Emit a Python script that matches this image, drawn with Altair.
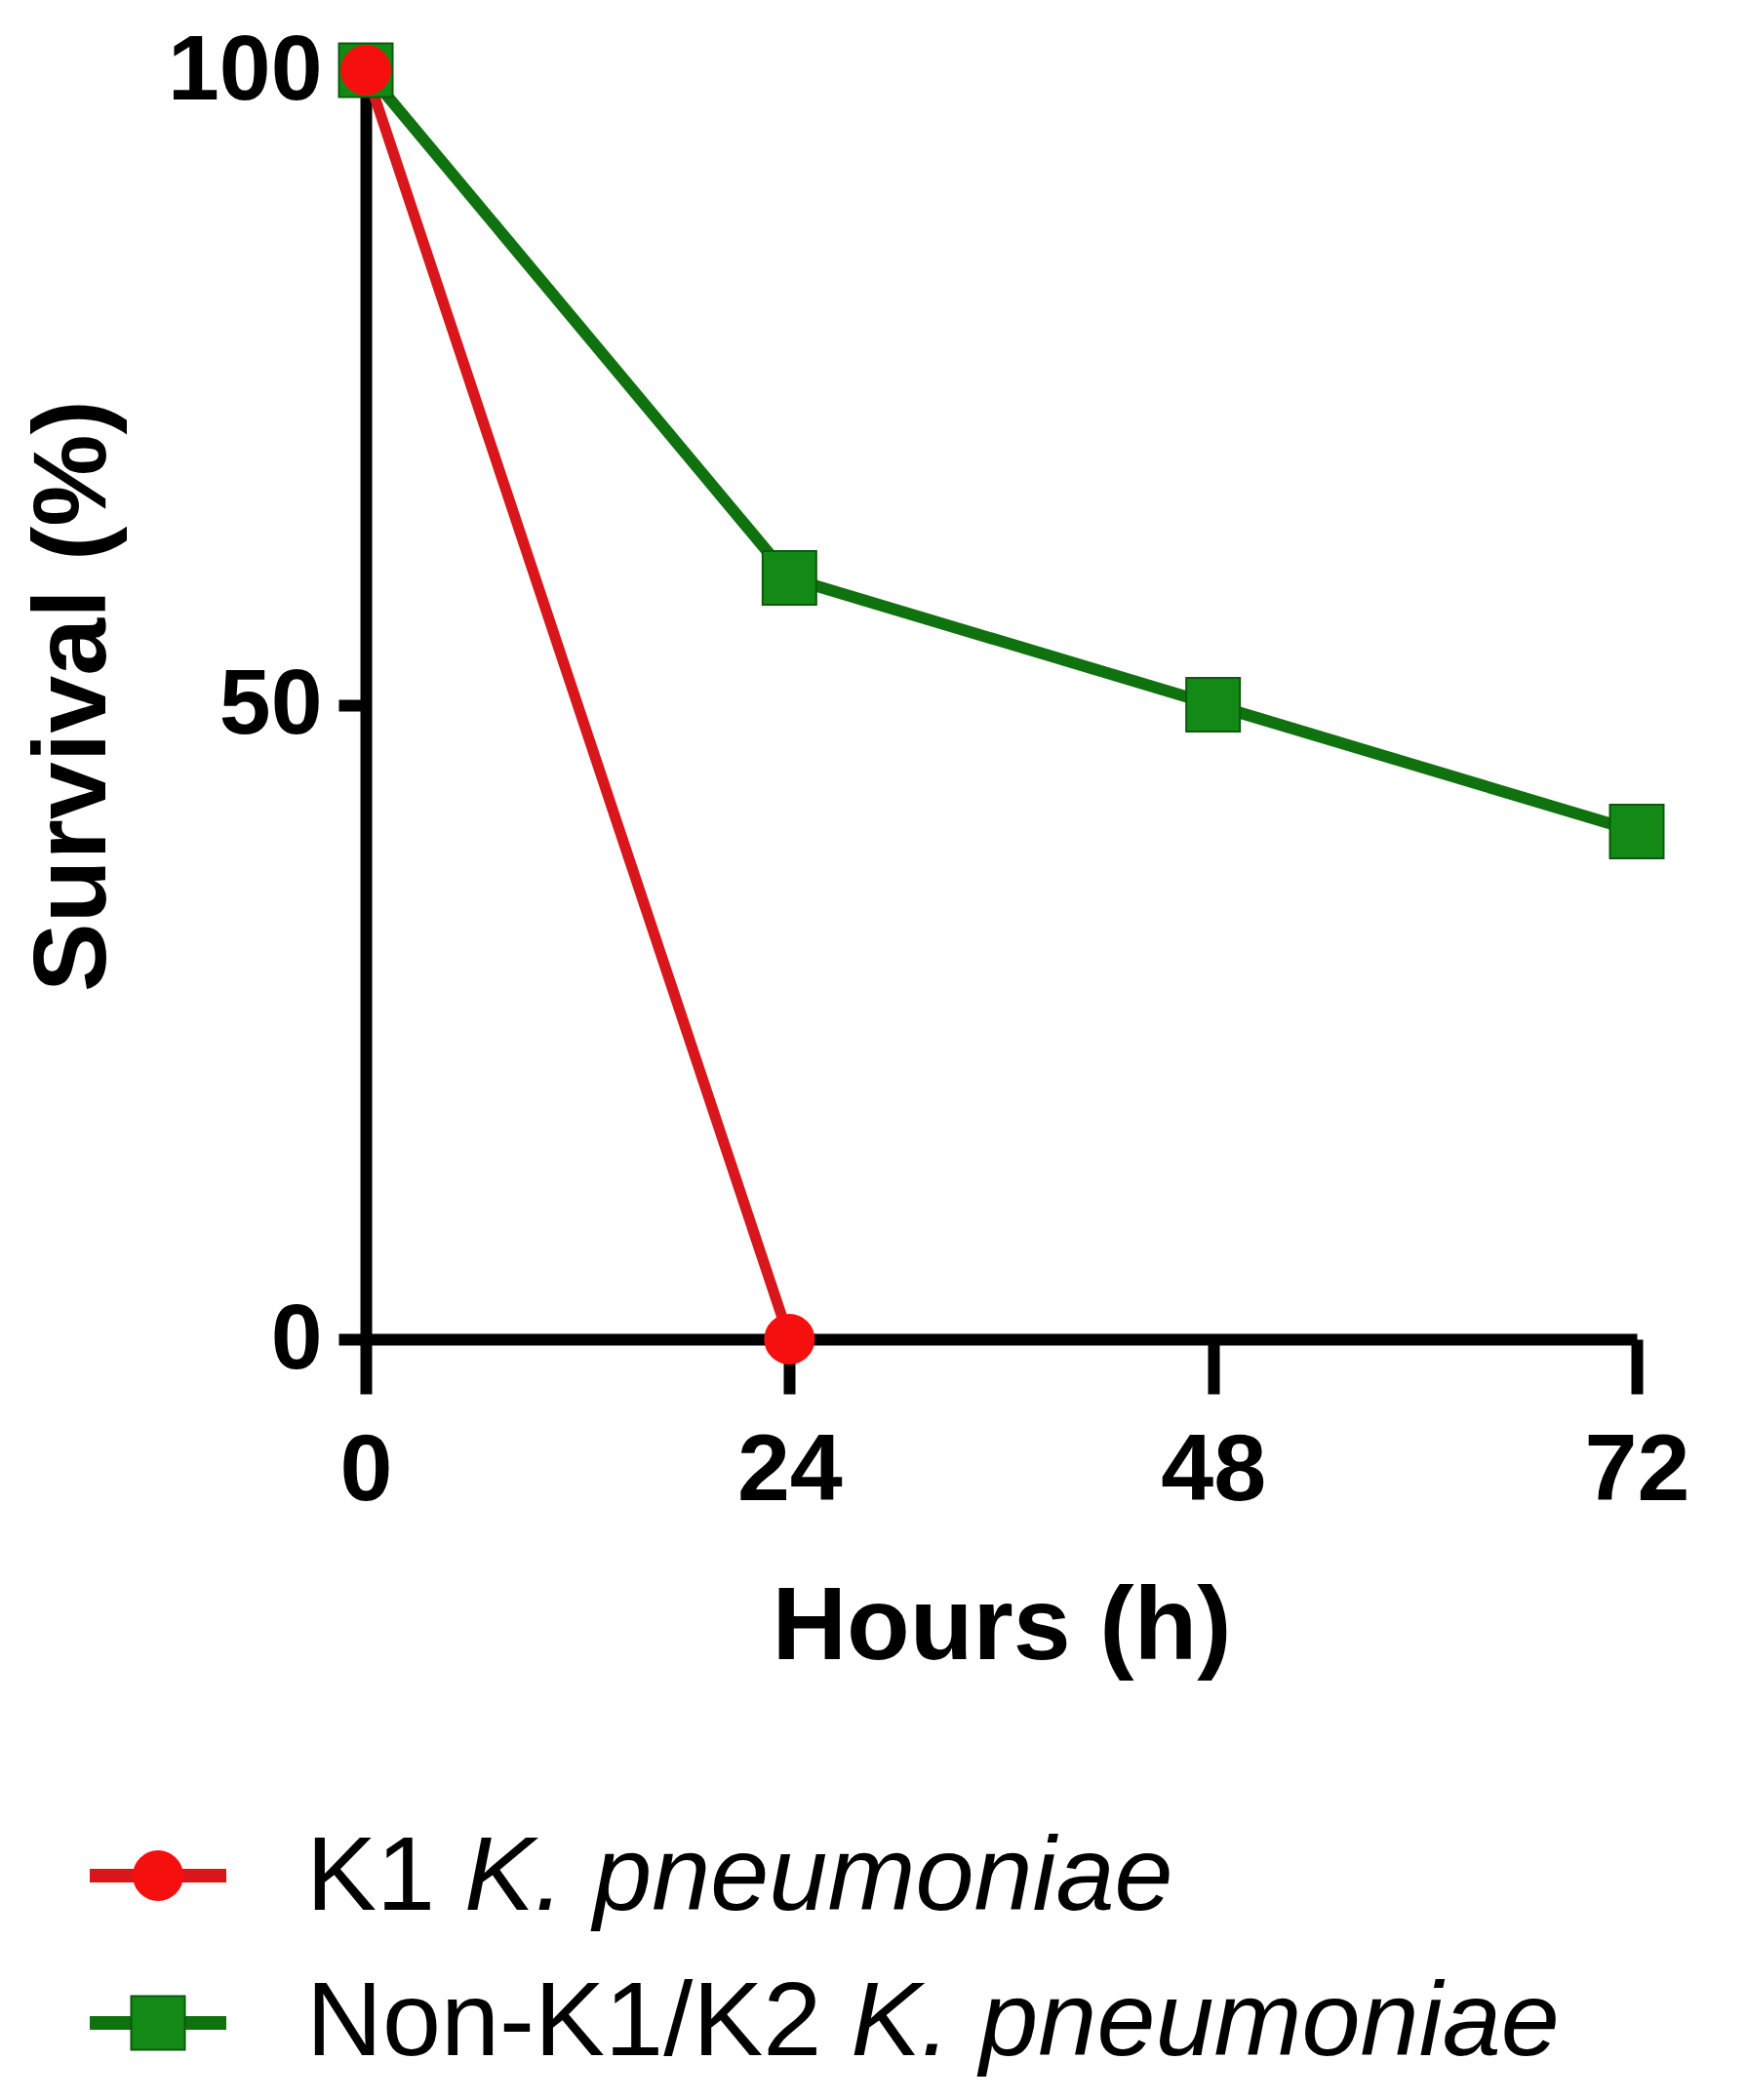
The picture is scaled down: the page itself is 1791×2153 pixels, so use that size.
import altair as alt
import pandas as pd

# ---- data ----
hours_k1 = [0, 24]
survival_k1 = [100, 0]
hours_non = [0, 24, 48, 72]
survival_non = [100, 60, 50, 40]
series_prefix = ["K1", "Non-K1/K2"]
species = "K. pneumoniae"
x_ticks = [0, 24, 48, 72]
y_ticks = [0, 50, 100]
x_title = "Hours (h)"
y_title = "Survival (%)"

RED_LINE = "#d9161b"
RED_FILL = "#f5100f"
GREEN_LINE = "#0f720f"
GREEN_FILL = "#138a16"
GREEN_EDGE = "#0b5a0b"
FONT = "Liberation Sans"

df_k1 = pd.DataFrame({"hours": hours_k1, "survival": survival_k1, "series": series_prefix[0]})
df_non = pd.DataFrame({"hours": hours_non, "survival": survival_non, "series": series_prefix[1]})

W, H = 1303, 1301

x_enc = alt.X(
    "hours:Q",
    scale=alt.Scale(domain=[0, 72], nice=False, zero=False),
    axis=alt.Axis(
        values=x_ticks, title=x_title, grid=False,
        labelFont=FONT, labelFontSize=97, labelFontWeight="bold", labelColor="black",
        labelPadding=31, labelFlush=False, labelOverlap=False,
        tickSize=56, tickWidth=12, tickColor="black",
        domainWidth=12, domainColor="black",
        titleFont=FONT, titleFontSize=106, titleFontWeight="bold", titleColor="black",
        titleX=W / 2, titleY=327, titleBaseline="alphabetic", titleAlign="center",
    ),
)
y_enc = alt.Y(
    "survival:Q",
    scale=alt.Scale(domain=[0, 100], nice=False, zero=False),
    axis=alt.Axis(
        values=y_ticks, title=y_title, grid=False,
        labelFont=FONT, labelFontSize=95, labelFontWeight="bold", labelColor="black",
        labelPadding=17, labelFlush=False, labelOverlap=False,
        tickSize=28, tickWidth=12, tickColor="black",
        domainWidth=12, domainColor="black",
        titleFont=FONT, titleFontSize=106, titleFontWeight="bold", titleColor="black",
        titleAngle=270, titleX=-268, titleY=641, titleBaseline="alphabetic", titleAlign="center",
    ),
)

green_line = alt.Chart(df_non).mark_line(color=GREEN_LINE, strokeWidth=12).encode(x=x_enc, y=y_enc)
red_line = alt.Chart(df_k1).mark_line(color=RED_LINE, strokeWidth=11).encode(x=x_enc, y=y_enc)
green_pts = alt.Chart(df_non).mark_point(
    shape="square", filled=True, size=3025, color=GREEN_FILL, stroke=GREEN_EDGE, strokeWidth=2, opacity=1
).encode(x=x_enc, y=y_enc)
red_pts = alt.Chart(df_k1).mark_point(
    shape="circle", filled=True, size=2700, color=RED_FILL, opacity=1
).encode(x=x_enc, y=y_enc)

# ---- custom legend (mixed upright / italic text) ----
ARIAL_W = {"K": .667, "1": .556, " ": .278, "N": .722, "o": .556, "n": .556, "-": .333,
           "/": .278, "2": .556}
LEG_FS = 108
legend_layers = []
rows = [
    (series_prefix[0], RED_LINE, RED_FILL, "circle", 1851, 1886),
    (series_prefix[1], GREEN_LINE, GREEN_FILL, "square", 2002, 2035),
]
for prefix, lc, fc, shape, ysym, ybase in rows:
    d = pd.DataFrame({"prefix": [prefix], "species": [species]})
    base = alt.Chart(d)
    legend_layers.append(
        base.mark_rule(color=lc, strokeWidth=14).encode(
            x=alt.value(-283), x2=alt.value(-143), y=alt.value(ysym)
        )
    )
    pt_kwargs = dict(shape=shape, filled=True, size=3025 if shape == "square" else 2700, color=fc, opacity=1)
    if shape == "square":
        pt_kwargs.update(stroke=GREEN_EDGE, strokeWidth=2)
    legend_layers.append(
        base.mark_point(**pt_kwargs).encode(x=alt.value(-213), y=alt.value(ysym))
    )
    legend_layers.append(
        base.mark_text(font=FONT, fontSize=LEG_FS, align="left", baseline="alphabetic", color="black").encode(
            x=alt.value(-61), y=alt.value(ybase), text="prefix:N"
        )
    )
    pw = sum(ARIAL_W.get(c, .556) for c in prefix + " ") * LEG_FS
    legend_layers.append(
        base.mark_text(font=FONT, fontSize=LEG_FS, fontStyle="italic", align="left",
                       baseline="alphabetic", color="black").encode(
            x=alt.value(-61 + pw), y=alt.value(ybase), text="species:N"
        )
    )

chart = alt.layer(green_line, red_line, green_pts, red_pts, *legend_layers).properties(
    width=W,
    height=H,
    background="white",
    autosize=alt.AutoSizeParams(type="none"),
    padding={"left": 367, "top": 64, "right": 100, "bottom": 760},
).configure_view(stroke=None, strokeWidth=0)

chart.save("out.html", embed_options={"renderer": "svg", "actions": False})
